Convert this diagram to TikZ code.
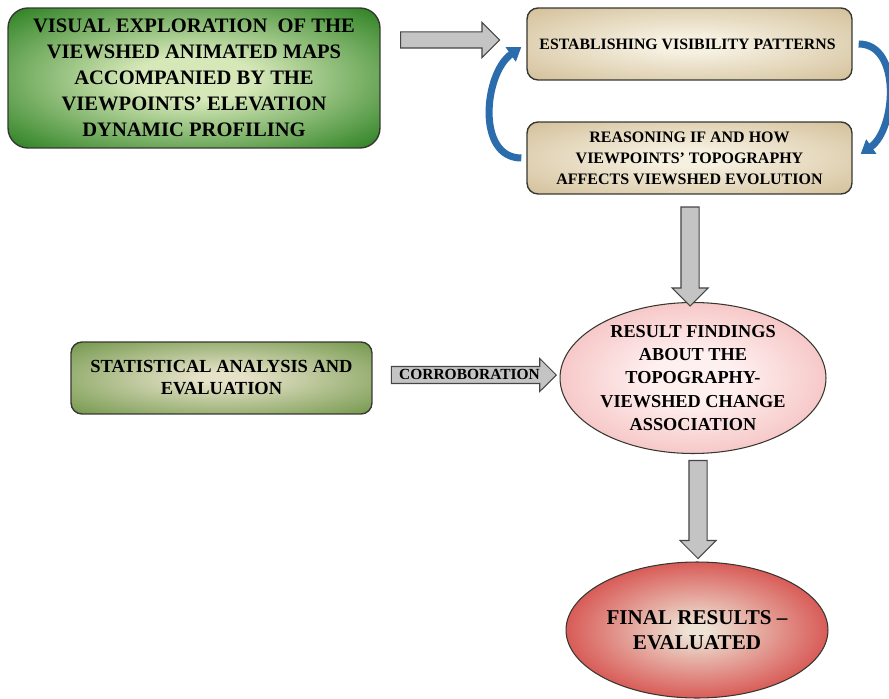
\documentclass[tikz,border=0pt]{standalone}
\usepackage{fontspec}
\setmainfont{Liberation Serif}
\usepackage{tikz}
\usetikzlibrary{shapes.geometric, shapes.arrows, arrows.meta, positioning}
\definecolor{boxborder}{RGB}{55, 55, 50}
\definecolor{greenedge}{RGB}{26, 118, 18}
\definecolor{greencore}{RGB}{214, 232, 184}
\definecolor{tanedge}{RGB}{208, 188, 148}
\definecolor{tancore}{RGB}{246, 240, 224}
\definecolor{oliveedge}{RGB}{106, 146, 66}
\definecolor{olivecore}{RGB}{230, 226, 200}
\definecolor{pinkedge}{RGB}{240, 170, 170}
\definecolor{pinkcore}{RGB}{255, 240, 240}
\definecolor{rededge}{RGB}{212, 62, 60}
\definecolor{redcore}{RGB}{238, 228, 214}
\definecolor{arrowfill}{RGB}{196, 196, 196}
\definecolor{arrowborder}{RGB}{70, 70, 70}
\definecolor{cycleblue}{RGB}{42, 108, 172}
% soft radial shadings
\pgfdeclareradialshading[greenedge,greencore]{greenglow}{\pgfpoint{0bp}{0bp}}{color(0bp)=(greencore); color(8bp)=(greencore); color(38bp)=(greenedge); color(100bp)=(greenedge)}
\pgfdeclareradialshading[tanedge,tancore]{tanglow}{\pgfpoint{0bp}{0bp}}{color(0bp)=(tancore); color(6bp)=(tancore); color(38bp)=(tanedge); color(100bp)=(tanedge)}
\pgfdeclareradialshading[oliveedge,olivecore]{oliveglow}{\pgfpoint{0bp}{0bp}}{color(0bp)=(olivecore); color(4bp)=(olivecore); color(38bp)=(oliveedge); color(100bp)=(oliveedge)}
\pgfdeclareradialshading[pinkedge,pinkcore]{pinkglow}{\pgfpoint{0bp}{0bp}}{color(0bp)=(pinkcore); color(8bp)=(pinkcore); color(38bp)=(pinkedge); color(100bp)=(pinkedge)}
\pgfdeclareradialshading[rededge,redcore]{redglow}{\pgfpoint{0bp}{0bp}}{color(0bp)=(redcore); color(2bp)=(redcore); color(30bp)=(rededge); color(100bp)=(rededge)}
\tikzset{
  font=\bfseries,
  baseblock/.style={
    rectangle, rounded corners=4mm, draw=boxborder, line width=0.8pt,
    align=center, inner sep=0pt
  },
  exploreblock/.style={baseblock, shading=greenglow,
    minimum width=7.44cm, minimum height=2.8cm, font=\bfseries\fontsize{11.7}{14.8}\selectfont},
  stepblock/.style={baseblock, rounded corners=2.2mm, shading=tanglow,
    minimum width=6.5cm, minimum height=1.44cm},
  statblock/.style={baseblock, rounded corners=2.2mm, shading=oliveglow,
    minimum width=6.02cm, minimum height=1.44cm, font=\bfseries\fontsize{10.5}{12.5}\selectfont},
  findingblock/.style={ellipse, draw=boxborder, line width=0.6pt, inner sep=0pt, align=center,
    shading=pinkglow,
    minimum width=5.32cm, minimum height=3.02cm, font=\bfseries\fontsize{10.4}{13.3}\selectfont},
  finalblock/.style={ellipse, draw=boxborder, line width=0.6pt, inner sep=0pt, align=center,
    shading=redglow,
    minimum width=5.24cm, minimum height=2.72cm, font=\bfseries\fontsize{12}{14}\selectfont},
  blockarrow/.style={
    single arrow, draw=arrowborder, fill=arrowfill, line width=0.6pt,
    inner sep=0.15cm, single arrow head extend=0.19cm, single arrow tip angle=90
  },
  cycleline/.style={
    draw=cycleblue, line width=4pt, -{Triangle[length=2.6mm, width=3.4mm]}
  }
}

\begin{document}
\begin{tikzpicture}[x=0.02cm, y=0.02cm]

  \useasboundingbox (0,0) rectangle (889,-699);

  % Exploration
  \node[exploreblock] (explore) at (194,-78) {
    VISUAL EXPLORATION\enspace OF THE\\
    VIEWSHED ANIMATED MAPS\\
    ACCOMPANIED BY THE\\
    VIEWPOINTS' ELEVATION\\
    DYNAMIC PROFILING
  };

  % Cycle of visibility reasoning
  \node[stepblock, font=\bfseries\fontsize{9}{11}\selectfont] (patterns) at (689.5,-44) {
    ESTABLISHING VISIBILITY PATTERNS
  };
  \node[stepblock, font=\bfseries\fontsize{9.1}{11.9}\selectfont] (reasoning) at (689.5,-158) {
    REASONING IF AND HOW\\
    VIEWPOINTS' TOPOGRAPHY\\
    AFFECTS VIEWSHED EVOLUTION
  };

  % Statistics
  \node[statblock] (stats) at (221.5,-378) {
    STATISTICAL ANALYSIS AND\\
    EVALUATION
  };

  % Findings
  \node[findingblock] (findings) at (693,-378) {
    RESULT FINDINGS\\
    ABOUT THE\\
    TOPOGRAPHY-\\
    VIEWSHED CHANGE\\
    ASSOCIATION
  };
  \node[finalblock] (final) at (697,-630) {
    FINAL RESULTS --\\
    EVALUATED
  };

  % Block arrows
  \node[blockarrow, minimum height=1.98cm] (toPatterns) at (446,-40) {};
  \node[blockarrow, inner sep=0.17cm, single arrow head extend=0.18cm, minimum height=1.98cm,
        shape border rotate=270] (toFindings) at (690,-252) {};
  \node[blockarrow, inner sep=0.17cm, single arrow head extend=0.18cm, minimum height=1.96cm,
        shape border rotate=270] (toFinal) at (698,-505) {};
  \node[blockarrow, minimum height=3.3cm, inner xsep=0.1cm, inner ysep=0.08cm,
        single arrow head extend=0.16cm, text height=1.6mm, text depth=0pt,
        font=\bfseries\fontsize{8.8}{9}\selectfont] (corroboration) at (469.5,-375) {CORROBORATION};

  % Cycle
  \draw[cycleline] ([xshift=-0.1cm]reasoning.west) to[out=180, in=215, looseness=1.05] ([xshift=-0.1cm, yshift=-0.06cm]patterns.west);
  \draw[cycleline] ([xshift=0.12cm]patterns.east) to[out=0, in=35, looseness=1.0] ([xshift=0.16cm, yshift=0.08cm]reasoning.east);

\end{tikzpicture}
\end{document}
